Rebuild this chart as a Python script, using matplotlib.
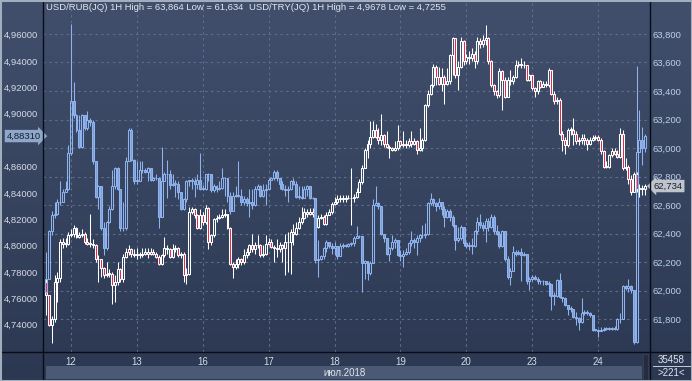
import numpy as np
import matplotlib
matplotlib.use("Agg")
import matplotlib.pyplot as plt
from matplotlib.colors import LinearSegmentedColormap
from matplotlib.lines import Line2D
from matplotlib.patches import Rectangle
from matplotlib.ticker import FuncFormatter, FixedLocator
from matplotlib.transforms import blended_transform_factory

plt.rcParams['font.family'] = ['Liberation Sans', 'DejaVu Sans']

# hourly candles, 11 Jul 15:00 .. 24 Jul
day_labels = ['12', '13', '16', '17', '18', '19', '20', '23', '24']
day_start = [9, 33, 57, 81, 105, 129, 153, 177, 201]
month_label = 'июл.2018'

# USD/TRY (left axis)
try_open0 = 4.765
try_close = [
    4.775, 4.811, 4.823, 4.824, 4.833, 4.833, 4.841, 4.843, 4.870, 4.910,
    4.899, 4.888, 4.875, 4.899, 4.889, 4.895, 4.894, 4.864, 4.837, 4.845,
    4.813, 4.798, 4.818, 4.828, 4.845, 4.859, 4.843, 4.813, 4.813, 4.864,
    4.888, 4.865, 4.849, 4.849, 4.857, 4.857, 4.856, 4.859, 4.850, 4.851,
    4.851, 4.822, 4.849, 4.854, 4.854, 4.846, 4.847, 4.847, 4.841, 4.828,
    4.835, 4.849, 4.849, 4.849, 4.847, 4.850, 4.843, 4.843, 4.854, 4.854,
    4.842, 4.845, 4.843, 4.844, 4.851, 4.851, 4.838, 4.826, 4.838, 4.838,
    4.838, 4.833, 4.835, 4.832, 4.833, 4.831, 4.843, 4.845, 4.838, 4.842,
    4.843, 4.850, 4.851, 4.856, 4.851, 4.847, 4.843, 4.842, 4.843, 4.849,
    4.847, 4.837, 4.837, 4.836, 4.843, 4.845, 4.836, 4.836, 4.789, 4.790,
    4.792, 4.798, 4.803, 4.800, 4.798, 4.800, 4.792, 4.800, 4.800, 4.800,
    4.801, 4.802, 4.806, 4.807, 4.807, 4.787, 4.788, 4.779, 4.787, 4.831,
    4.832, 4.830, 4.809, 4.806, 4.794, 4.798, 4.803, 4.804, 4.793, 4.792,
    4.794, 4.795, 4.802, 4.804, 4.803, 4.806, 4.808, 4.808, 4.809, 4.832,
    4.835, 4.832, 4.830, 4.833, 4.828, 4.822, 4.826, 4.822, 4.816, 4.804,
    4.806, 4.814, 4.802, 4.800, 4.800, 4.800, 4.811, 4.818, 4.816, 4.813,
    4.819, 4.814, 4.822, 4.811, 4.809, 4.800, 4.811, 4.790, 4.776, 4.781,
    4.795, 4.794, 4.795, 4.793, 4.794, 4.773, 4.775, 4.776, 4.775, 4.773,
    4.773, 4.773, 4.771, 4.771, 4.762, 4.762, 4.774, 4.761, 4.760, 4.755,
    4.752, 4.752, 4.746, 4.745, 4.742, 4.749, 4.750, 4.749, 4.747, 4.736,
    4.736, 4.735, 4.736, 4.737, 4.737, 4.737, 4.737, 4.737, 4.744, 4.744,
    4.769, 4.768, 4.769, 4.766, 4.727, 4.871, 4.880, 4.874, 4.8831]
try_high = [
    4.795, 4.812, 4.826, 4.833, 4.835, 4.849, 4.843, 4.849, 4.876, 4.9678,
    4.924, 4.900, 4.899, 4.900, 4.899, 4.902, 4.897, 4.895, 4.864, 4.846,
    4.845, 4.818, 4.819, 4.830, 4.857, 4.860, 4.860, 4.843, 4.833, 4.867,
    4.889, 4.889, 4.866, 4.864, 4.864, 4.864, 4.859, 4.860, 4.859, 4.852,
    4.854, 4.852, 4.875, 4.856, 4.865, 4.857, 4.854, 4.850, 4.849, 4.841,
    4.836, 4.850, 4.850, 4.851, 4.851, 4.854, 4.870, 4.846, 4.854, 4.855,
    4.854, 4.847, 4.846, 4.849, 4.859, 4.852, 4.851, 4.841, 4.841, 4.845,
    4.864, 4.843, 4.838, 4.837, 4.843, 4.843, 4.845, 4.847, 4.846, 4.847,
    4.847, 4.851, 4.852, 4.857, 4.857, 4.851, 4.849, 4.846, 4.845, 4.850,
    4.851, 4.849, 4.845, 4.845, 4.845, 4.846, 4.845, 4.837, 4.836, 4.804,
    4.793, 4.799, 4.804, 4.803, 4.802, 4.803, 4.800, 4.802, 4.802, 4.801,
    4.802, 4.803, 4.807, 4.815, 4.808, 4.807, 4.789, 4.788, 4.788, 4.835,
    4.845, 4.833, 4.830, 4.809, 4.806, 4.799, 4.808, 4.806, 4.804, 4.797,
    4.797, 4.798, 4.803, 4.811, 4.806, 4.808, 4.809, 4.816, 4.817, 4.833,
    4.840, 4.836, 4.833, 4.836, 4.833, 4.830, 4.828, 4.828, 4.823, 4.816,
    4.814, 4.816, 4.814, 4.803, 4.803, 4.806, 4.812, 4.822, 4.824, 4.818,
    4.821, 4.821, 4.824, 4.823, 4.816, 4.811, 4.812, 4.811, 4.792, 4.783,
    4.800, 4.797, 4.797, 4.798, 4.795, 4.794, 4.776, 4.778, 4.778, 4.776,
    4.774, 4.774, 4.773, 4.773, 4.771, 4.765, 4.775, 4.779, 4.761, 4.761,
    4.755, 4.754, 4.752, 4.750, 4.746, 4.760, 4.751, 4.751, 4.750, 4.747,
    4.737, 4.737, 4.738, 4.738, 4.738, 4.738, 4.738, 4.739, 4.745, 4.749,
    4.770, 4.770, 4.775, 4.770, 4.766, 4.936, 4.903, 4.890, 4.885]
try_low = [
    4.764, 4.775, 4.808, 4.821, 4.823, 4.831, 4.833, 4.841, 4.842, 4.869,
    4.897, 4.886, 4.874, 4.874, 4.888, 4.888, 4.891, 4.862, 4.836, 4.828,
    4.812, 4.793, 4.797, 4.817, 4.827, 4.843, 4.842, 4.811, 4.811, 4.812,
    4.864, 4.864, 4.847, 4.847, 4.849, 4.855, 4.855, 4.849, 4.849, 4.849,
    4.850, 4.813, 4.822, 4.849, 4.836, 4.843, 4.845, 4.837, 4.835, 4.827,
    4.827, 4.833, 4.845, 4.843, 4.837, 4.843, 4.842, 4.842, 4.842, 4.849,
    4.841, 4.841, 4.841, 4.842, 4.843, 4.838, 4.833, 4.824, 4.826, 4.837,
    4.837, 4.831, 4.831, 4.830, 4.822, 4.828, 4.830, 4.842, 4.837, 4.837,
    4.831, 4.843, 4.850, 4.850, 4.849, 4.843, 4.842, 4.838, 4.833, 4.842,
    4.846, 4.836, 4.835, 4.835, 4.836, 4.838, 4.835, 4.835, 4.787, 4.776,
    4.789, 4.790, 4.795, 4.798, 4.794, 4.793, 4.790, 4.792, 4.798, 4.799,
    4.799, 4.800, 4.800, 4.806, 4.806, 4.765, 4.775, 4.774, 4.778, 4.787,
    4.830, 4.828, 4.808, 4.803, 4.793, 4.788, 4.797, 4.798, 4.792, 4.788,
    4.784, 4.793, 4.794, 4.800, 4.798, 4.793, 4.803, 4.806, 4.806, 4.808,
    4.831, 4.830, 4.826, 4.828, 4.823, 4.814, 4.821, 4.819, 4.814, 4.797,
    4.803, 4.804, 4.800, 4.798, 4.797, 4.794, 4.799, 4.809, 4.813, 4.811,
    4.803, 4.811, 4.813, 4.809, 4.808, 4.798, 4.799, 4.788, 4.775, 4.770,
    4.781, 4.792, 4.793, 4.773, 4.792, 4.771, 4.766, 4.773, 4.774, 4.771,
    4.771, 4.770, 4.770, 4.762, 4.751, 4.755, 4.761, 4.760, 4.757, 4.754,
    4.747, 4.750, 4.745, 4.740, 4.736, 4.741, 4.747, 4.747, 4.746, 4.735,
    4.735, 4.731, 4.735, 4.735, 4.736, 4.736, 4.736, 4.736, 4.736, 4.741,
    4.744, 4.766, 4.765, 4.764, 4.7255, 4.726, 4.871, 4.861, 4.871]

# USD/RUB (right axis)
rub_open0 = 62.06
rub_close = [
    61.97, 61.76, 61.80, 62.06, 62.09, 62.34, 62.33, 62.33, 62.39, 62.40,
    62.44, 62.38, 62.39, 62.40, 62.34, 62.33, 62.33, 62.32, 62.22, 62.22,
    62.16, 62.11, 62.12, 62.12, 62.04, 62.06, 62.15, 62.08, 62.24, 62.27,
    62.29, 62.26, 62.25, 62.26, 62.25, 62.26, 62.27, 62.26, 62.27, 62.26,
    62.24, 62.19, 62.25, 62.30, 62.29, 62.24, 62.29, 62.30, 62.25, 62.26,
    62.11, 62.12, 62.55, 62.57, 62.53, 62.44, 62.53, 62.48, 62.58, 62.34,
    62.39, 62.50, 62.51, 62.52, 62.53, 62.54, 62.44, 62.19, 62.17, 62.19,
    62.22, 62.20, 62.25, 62.27, 62.32, 62.29, 62.32, 62.32, 62.25, 62.26,
    62.33, 62.34, 62.31, 62.30, 62.29, 62.32, 62.30, 62.34, 62.34, 62.41,
    62.40, 62.44, 62.48, 62.51, 62.55, 62.54, 62.55, 62.54, 62.45, 62.51,
    62.52, 62.47, 62.53, 62.55, 62.61, 62.62, 62.64, 62.65, 62.64, 62.65,
    62.65, 62.65, 62.66, 62.69, 62.76, 62.86, 62.99, 63.03, 63.08, 63.13,
    63.08, 63.06, 63.09, 63.03, 63.01, 63.00, 62.99, 63.00, 63.05, 63.02,
    63.03, 63.02, 63.05, 63.03, 63.05, 62.99, 63.00, 63.06, 63.30, 63.38,
    63.44, 63.57, 63.50, 63.45, 63.50, 63.45, 63.47, 63.65, 63.77, 63.51,
    63.57, 63.75, 63.61, 63.64, 63.63, 63.66, 63.61, 63.75, 63.73, 63.76,
    63.77, 63.61, 63.44, 63.40, 63.37, 63.54, 63.48, 63.36, 63.48, 63.47,
    63.50, 63.58, 63.59, 63.58, 63.58, 63.48, 63.51, 63.42, 63.40, 63.47,
    63.43, 63.45, 63.44, 63.55, 63.38, 63.33, 63.34, 63.10, 63.06, 63.02,
    63.13, 63.13, 63.10, 63.05, 63.06, 63.07, 63.06, 63.03, 63.06, 63.07,
    63.08, 63.06, 62.98, 62.87, 62.87, 62.95, 62.98, 62.96, 62.94, 63.10,
    62.86, 62.87, 62.78, 62.69, 62.82, 62.71, 62.72, 62.71, 62.734]
rub_high = [
    62.09, 61.97, 61.82, 62.11, 62.13, 62.36, 62.37, 62.37, 62.41, 62.43,
    62.46, 62.45, 62.41, 62.43, 62.41, 62.37, 62.54, 62.36, 62.33, 62.25,
    62.22, 62.17, 62.20, 62.15, 62.13, 62.11, 62.20, 62.16, 62.26, 62.30,
    62.32, 62.30, 62.29, 62.30, 62.27, 62.30, 62.30, 62.30, 62.30, 62.29,
    62.27, 62.25, 62.26, 62.38, 62.32, 62.30, 62.33, 62.32, 62.31, 62.27,
    62.27, 62.16, 62.59, 62.59, 62.58, 62.54, 62.57, 62.55, 62.60, 62.59,
    62.40, 62.51, 62.53, 62.54, 62.57, 62.57, 62.53, 62.45, 62.20, 62.22,
    62.24, 62.23, 62.29, 62.30, 62.33, 62.40, 62.34, 62.39, 62.33, 62.32,
    62.39, 62.37, 62.36, 62.32, 62.36, 62.34, 62.33, 62.40, 62.41, 62.43,
    62.47, 62.48, 62.52, 62.59, 62.58, 62.57, 62.58, 62.58, 62.54, 62.53,
    62.54, 62.53, 62.55, 62.57, 62.62, 62.66, 62.67, 62.67, 62.67, 62.67,
    62.67, 62.86, 62.68, 62.72, 62.78, 62.88, 63.00, 63.06, 63.19, 63.19,
    63.17, 63.14, 63.24, 63.10, 63.12, 63.02, 63.01, 63.05, 63.16, 63.06,
    63.12, 63.06, 63.07, 63.12, 63.07, 63.06, 63.14, 63.07, 63.31, 63.41,
    63.45, 63.59, 63.58, 63.57, 63.56, 63.51, 63.56, 63.66, 63.78, 63.77,
    63.61, 63.78, 63.76, 63.66, 63.68, 63.70, 63.68, 63.78, 63.77, 63.79,
    63.864, 63.78, 63.62, 63.45, 63.41, 63.56, 63.55, 63.50, 63.50, 63.55,
    63.51, 63.62, 63.61, 63.63, 63.61, 63.58, 63.52, 63.51, 63.43, 63.48,
    63.48, 63.47, 63.47, 63.56, 63.55, 63.40, 63.36, 63.35, 63.12, 63.08,
    63.14, 63.15, 63.21, 63.12, 63.08, 63.10, 63.10, 63.07, 63.08, 63.09,
    63.09, 63.09, 63.07, 62.99, 62.91, 62.96, 63.00, 63.00, 62.99, 63.14,
    63.13, 62.93, 62.88, 62.81, 62.83, 62.83, 62.75, 62.74, 62.75]
rub_low = [
    61.83, 61.75, 61.634, 61.78, 61.92, 62.06, 62.30, 62.31, 62.32, 62.38,
    62.38, 62.37, 62.37, 62.38, 62.33, 62.32, 62.31, 62.30, 62.20, 62.06,
    62.10, 62.09, 62.10, 62.10, 61.91, 61.92, 62.04, 62.06, 62.06, 62.23,
    62.25, 62.24, 62.24, 62.22, 62.23, 62.24, 62.25, 62.23, 62.25, 62.25,
    62.23, 62.18, 62.18, 62.24, 62.26, 62.23, 62.23, 62.27, 62.24, 62.23,
    62.06, 62.05, 62.11, 62.54, 62.51, 62.43, 62.43, 62.46, 62.47, 62.29,
    62.32, 62.38, 62.48, 62.50, 62.51, 62.52, 62.43, 62.18, 62.09, 62.15,
    62.16, 62.18, 62.19, 62.23, 62.25, 62.27, 62.26, 62.30, 62.24, 62.24,
    62.25, 62.32, 62.30, 62.20, 62.24, 62.27, 62.20, 62.11, 62.13, 62.12,
    62.32, 62.39, 62.43, 62.47, 62.50, 62.52, 62.53, 62.52, 62.44, 62.44,
    62.50, 62.46, 62.46, 62.53, 62.54, 62.60, 62.61, 62.62, 62.62, 62.62,
    62.64, 62.46, 62.62, 62.65, 62.69, 62.75, 62.86, 62.93, 63.00, 63.07,
    63.07, 63.03, 63.02, 63.01, 63.00, 62.93, 62.98, 62.98, 62.99, 63.01,
    63.01, 63.00, 63.01, 63.01, 63.02, 62.96, 62.98, 62.98, 63.05, 63.29,
    63.37, 63.43, 63.44, 63.44, 63.40, 63.31, 63.44, 63.45, 63.51, 63.49,
    63.41, 63.56, 63.58, 63.59, 63.59, 63.61, 63.56, 63.59, 63.70, 63.71,
    63.72, 63.59, 63.43, 63.37, 63.35, 63.36, 63.27, 63.35, 63.36, 63.44,
    63.45, 63.49, 63.57, 63.56, 63.56, 63.47, 63.47, 63.41, 63.36, 63.38,
    63.42, 63.43, 63.43, 63.43, 63.37, 63.31, 63.31, 63.09, 62.98, 62.96,
    63.01, 63.09, 63.02, 63.03, 63.02, 63.03, 63.02, 62.99, 63.02, 63.05,
    63.06, 63.05, 62.96, 62.86, 62.86, 62.86, 62.94, 62.95, 62.93, 62.93,
    62.85, 62.85, 62.75, 62.67, 62.69, 62.69, 62.66, 62.67, 62.67]

for s in (try_close, try_high, try_low, rub_close, rub_high, rub_low):
    assert len(s) == 219, len(s)

W, H = 692, 381
fig = plt.figure(figsize=(W / 100, H / 100), dpi=100)


def pxrect(x0, y0, x1, y1):
    # pixel box (top-left origin) -> figure fraction rect
    return [x0 / W, 1 - y1 / H, (x1 - x0) / W, (y1 - y0) / H]


# background gradient over the whole window
bg = fig.add_axes([0, 0, 1, 1], zorder=-10)
grad = np.linspace(0, 1, 256).reshape(-1, 1)
bgmap = LinearSegmentedColormap.from_list('bg', ['#414f6d', '#37445f', '#2c3852'])
bg.imshow(grad, aspect='auto', cmap=bgmap, extent=[0, 1, 0, 1], origin='upper')
bg.set_xlim(0, 1)
bg.set_ylim(0, 1)
bg.axis('off')

# RUB on the lower axes (right scale), TRY on the twin (left scale)
ax = fig.add_axes(pxrect(43, 2, 650, 352))
ax.set_facecolor('none')
ax2 = ax.twinx()
ax2.set_facecolor('none')


def candles(a, o, h, l, c, edge, down_fill, up_fill, lw=0.75):
    o, h, l, c = map(np.asarray, (o, h, l, c))
    x = np.arange(len(c))
    top = np.maximum(o, c)
    bot = np.minimum(o, c)
    h = np.maximum(h, top)
    l = np.minimum(l, bot)
    a.vlines(x, top, h, color=edge, lw=lw, zorder=3)
    a.vlines(x, l, bot, color=edge, lw=lw, zorder=3)
    span = a.get_ylim()[1] - a.get_ylim()[0]
    body = np.maximum(top - bot, span * 0.0015)
    fills = [down_fill if cc < oo else up_fill for oo, cc in zip(o, c)]
    a.bar(x, body, bottom=bot, width=0.72, color=fills, edgecolor=edge,
          linewidth=lw, zorder=4)


ax.set_ylim(61.571, 64.024)
ax2.set_ylim(4.7193, 4.9848)
ax.set_xlim(-1.2, 219.9)

rub_open = [rub_open0] + rub_close[:-1]
try_open = [try_open0] + try_close[:-1]
candles(ax, rub_open, rub_high, rub_low, rub_close, '#ffffff', '#e8203f', 'none')
candles(ax2, try_open, try_high, try_low, try_close, '#8fb3ee', '#7d9fd6', 'none')

# grid
grid_kw = dict(color='#5e6d8b', ls=(0, (2.2, 3)), lw=0.8)
ax.set_axisbelow(True)
ax.yaxis.set_major_locator(FixedLocator(np.arange(61.8, 63.81, 0.2)))
ax.xaxis.set_major_locator(FixedLocator(day_start))
ax.set_xticklabels(day_labels)
ax.grid(True, axis='both', **grid_kw)

# ticks / labels
ax.yaxis.tick_right()
ax.yaxis.set_major_formatter(FuncFormatter(lambda v, p: f'{v:.3f}'.replace('.', ',')))
ax.tick_params(axis='y', length=0, pad=1.5, labelsize=6.8, labelcolor='#bccfe9')
ax.tick_params(axis='x', length=0, pad=3.5, labelsize=7, labelcolor='#d4dbe6')


def try_fmt(v, p):
    # the last-price tag sits on top of the nearest tick label
    if abs(v - try_close[-1]) < 0.01:
        return ''
    return f'{v:.5f}'.replace('.', ',')


ax2.yaxis.tick_left()
ax2.yaxis.set_major_locator(FixedLocator(np.arange(4.74, 4.961, 0.02)))
ax2.yaxis.set_major_formatter(FuncFormatter(try_fmt))
ax2.tick_params(axis='y', length=0, pad=3.5, labelsize=6.8, labelcolor='#d5dbe5')

for a in (ax, ax2):
    for sp in a.spines.values():
        sp.set_visible(False)

# last price tags
tr_l = blended_transform_factory(ax2.transAxes, ax2.transData)
ax2.text(-0.004, try_close[-1], f'{try_close[-1]:.5f}'.replace('.', ','),
         transform=tr_l, ha='right', va='center', fontsize=6.8, color='#18202e',
         clip_on=False, zorder=10,
         bbox=dict(boxstyle='rarrow,pad=0.18', fc='#8ea7ca', ec='none'))
tr_r = blended_transform_factory(ax.transAxes, ax.transData)
ax.text(1.006, rub_close[-1], f'{rub_close[-1]:.3f}'.replace('.', ','),
        transform=tr_r, ha='left', va='center', fontsize=6.8, color='#18202e',
        clip_on=False, zorder=10,
        bbox=dict(boxstyle='larrow,pad=0.18', fc='#bfc3cb', ec='none'))

# header texts
fig.text(46 / W, 1 - 8 / H, 'USD/RUB(JQ) 1H High = 63,864 Low = 61,634',
         ha='left', va='center', fontsize=6.8, color='#e2e6ec')
fig.text(249 / W, 1 - 8 / H, 'USD/TRY(JQ) 1H High = 4,9678 Low = 4,7255',
         ha='left', va='center', fontsize=6.8, color='#e2e6ec')

# bottom strip with month
fig.patches.append(Rectangle((46 / W, 1 - 379 / H), (642 - 46) / W, 13 / H,
                             transform=fig.transFigure, fc='#4b5a74', ec='none', zorder=1))
fig.text(345 / W, 1 - 372.5 / H, month_label, ha='center', va='center',
         fontsize=7, color='#e0e5ec')
fig.patches.append(Rectangle((643 / W, 1 - 380 / H), 5 / W, 26 / H,
                             transform=fig.transFigure, fc='#242c3d', ec='#3b4456',
                             lw=0.5, zorder=1))

# bottom right counters
fig.text(671 / W, 1 - 360 / H, '35458', ha='center', va='center', fontsize=7, color='#e0e5ec')
fig.text(671 / W, 1 - 373 / H, '>221<', ha='center', va='center', fontsize=7, color='#e0e5ec')
fig.add_artist(Line2D([653 / W, 690 / W], [1 - 366 / H] * 2, color='#c8ced8', lw=0.7))

# frame lines
line_c = '#080c16'
fig.add_artist(Line2D([43 / W, 43 / W], [0, 1], color=line_c, lw=1.0))
fig.add_artist(Line2D([650 / W, 650 / W], [0, 1], color=line_c, lw=1.0))
fig.add_artist(Line2D([0, 1], [1 - 352 / H] * 2, color=line_c, lw=1.0))
fig.patches.append(Rectangle((0, 0), 1, 1, transform=fig.transFigure, fill=False,
                             ec='#a2adbd', lw=2.2, zorder=20))

fig.savefig('out.png', dpi=100)
